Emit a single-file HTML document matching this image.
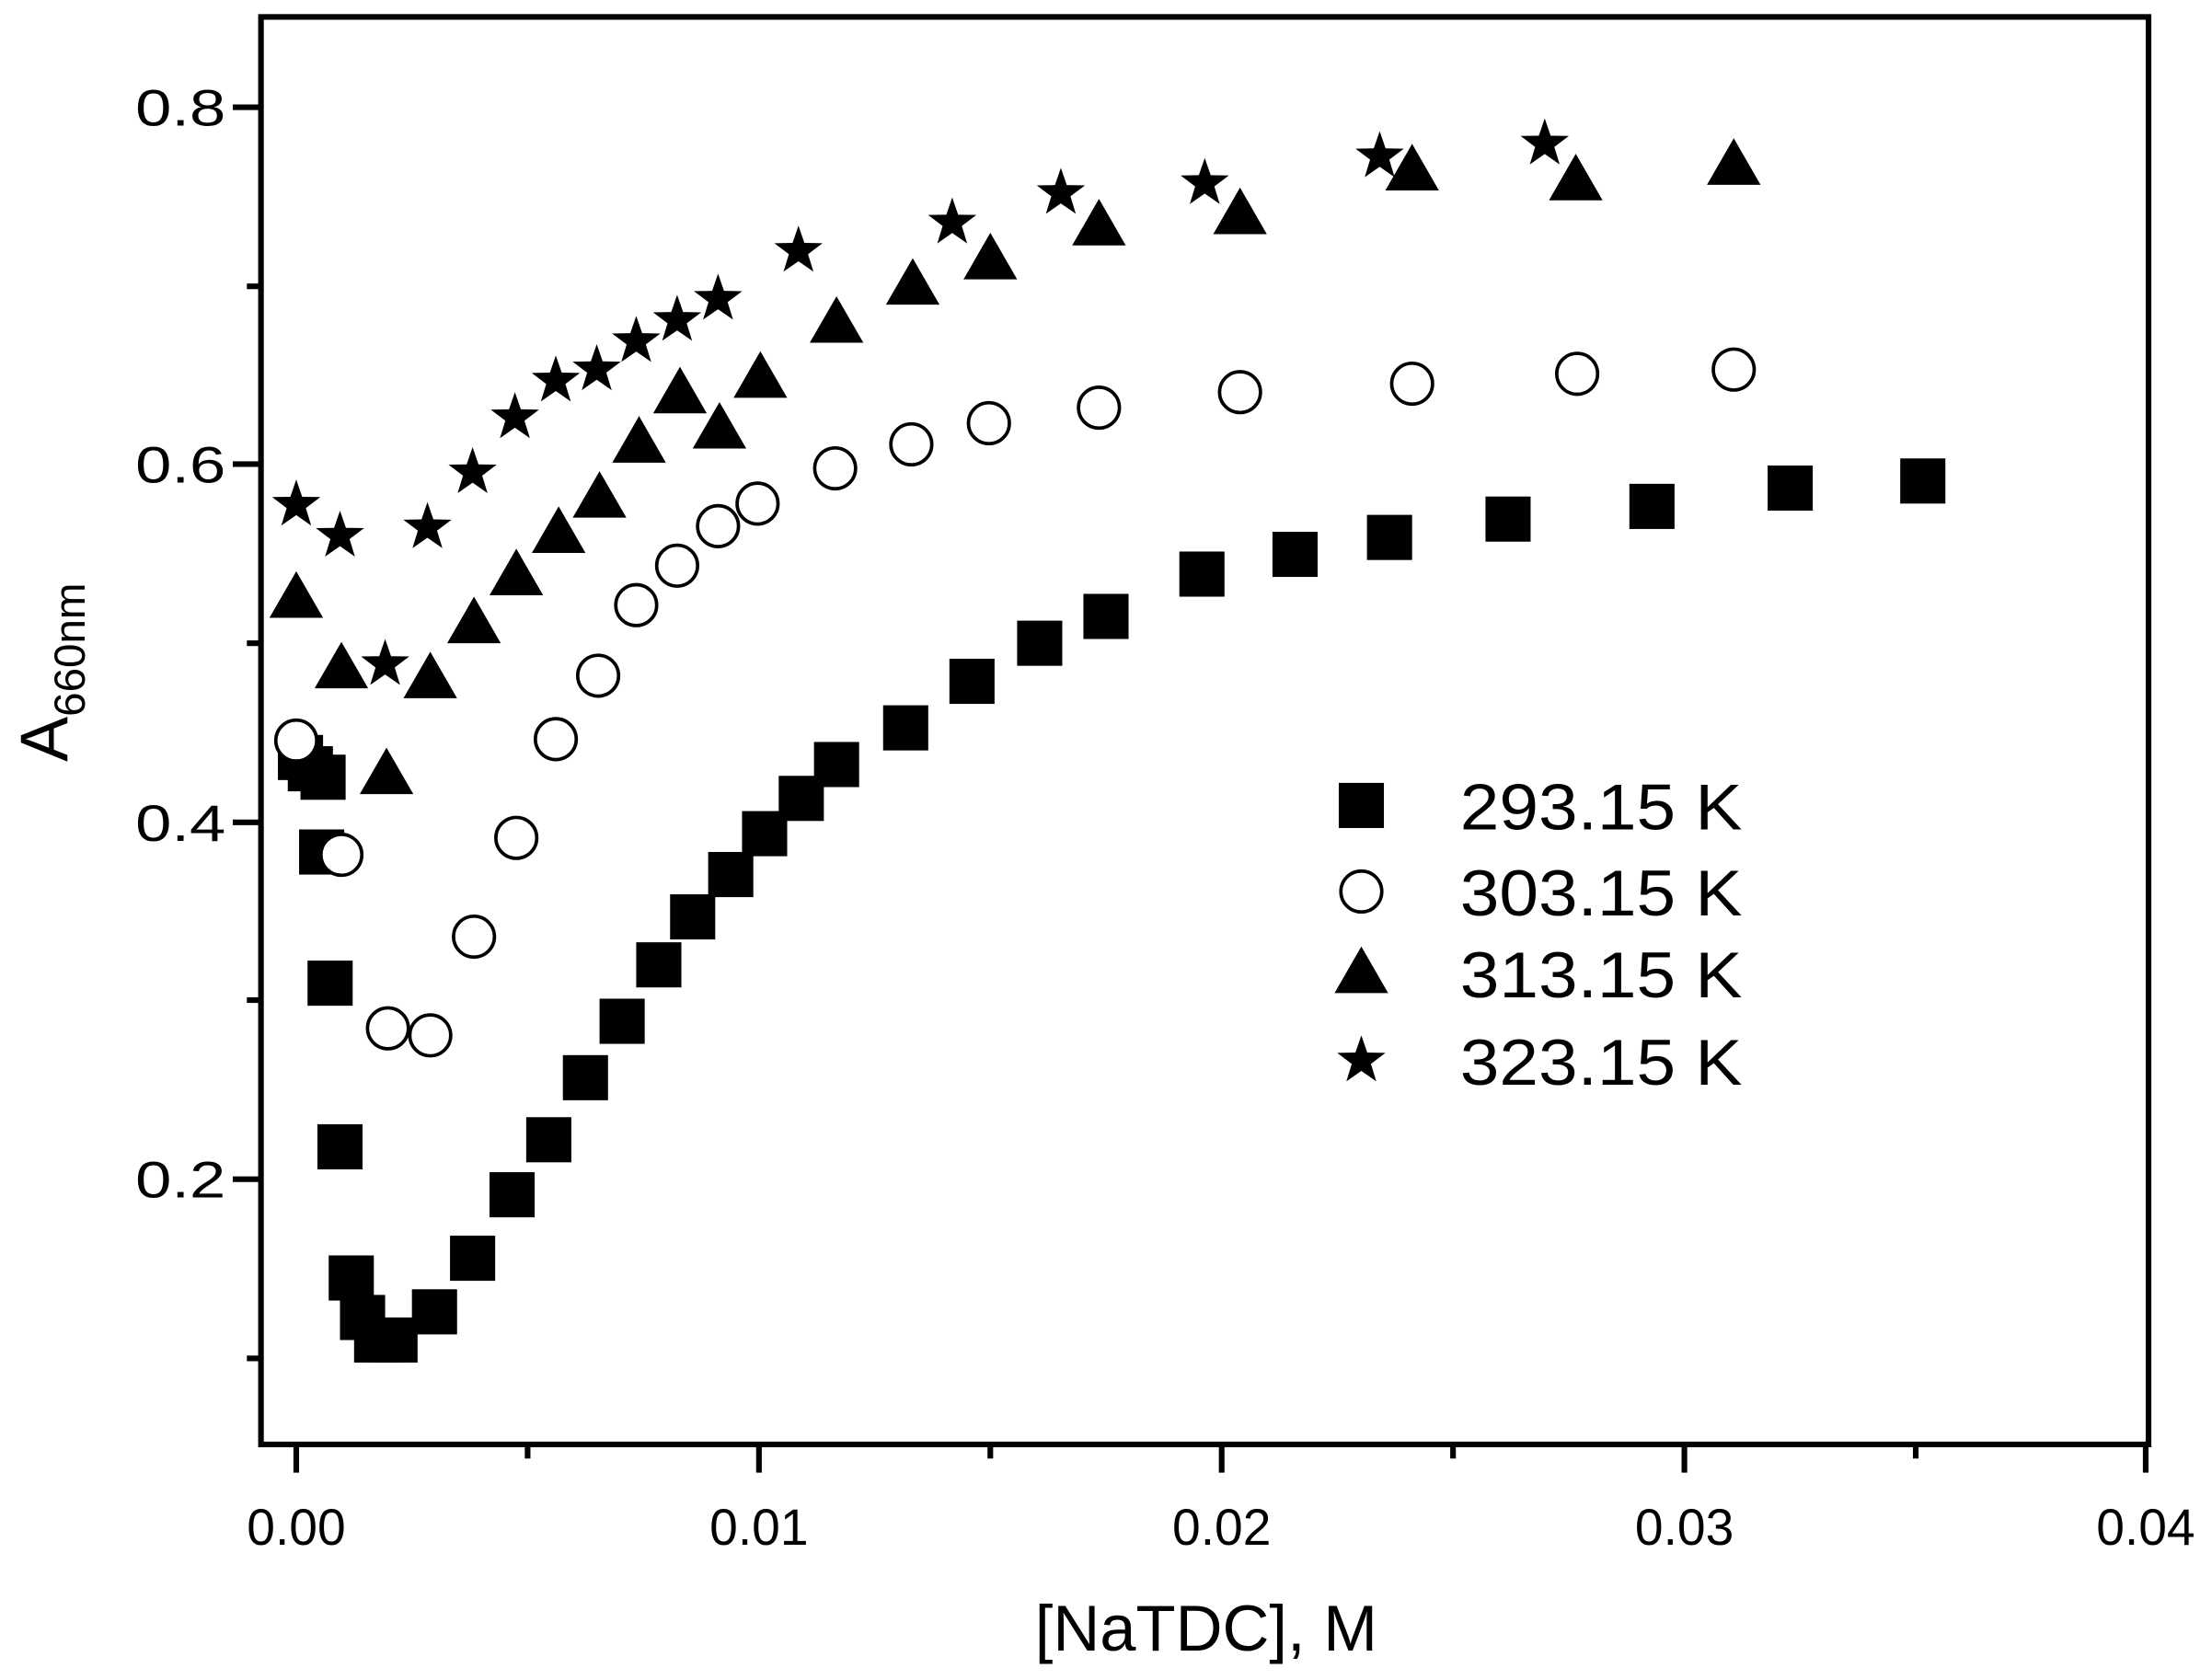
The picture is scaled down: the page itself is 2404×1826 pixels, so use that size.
<!DOCTYPE html>
<html><head><meta charset="utf-8"><style>html,body{margin:0;padding:0;background:#fff}svg{display:block}</style></head>
<body>
<svg width="2404" height="1826" viewBox="0 0 1568 1191" preserveAspectRatio="none" xmlns="http://www.w3.org/2000/svg" font-family="Liberation Sans, Arial, sans-serif">
<defs>
<rect id="sq" x="-16" y="-16" width="32" height="32" fill="#000"/>
<circle id="ci" r="14.5" fill="#fff" stroke="#000" stroke-width="2.4"/>
<polygon id="tr" points="0,-19 19,14 -19,14" fill="#000"/>
<polygon id="st" points="0,-18 4.2,-5.8 17.1,-5.6 6.8,2.2 10.6,14.6 0,7.2 -10.6,14.6 -6.8,2.2 -17.1,-5.6 -4.2,-5.8" fill="#000"/>
</defs>
<g stroke="#000" stroke-width="4" fill="none">
<rect x="185" y="12" width="1338" height="1012"/>
<line x1="165" y1="76" x2="185" y2="76"/><line x1="165" y1="329" x2="185" y2="329"/><line x1="165" y1="583" x2="185" y2="583"/><line x1="165" y1="836" x2="185" y2="836"/>
<line x1="175" y1="203" x2="185" y2="203"/><line x1="175" y1="456" x2="185" y2="456"/><line x1="175" y1="709" x2="185" y2="709"/><line x1="175" y1="963" x2="185" y2="963"/>
<line x1="210" y1="1024" x2="210" y2="1044"/><line x1="538" y1="1024" x2="538" y2="1044"/><line x1="866" y1="1024" x2="866" y2="1044"/><line x1="1194" y1="1024" x2="1194" y2="1044"/><line x1="1521" y1="1024" x2="1521" y2="1044"/>
<line x1="374" y1="1024" x2="374" y2="1034"/><line x1="702" y1="1024" x2="702" y2="1034"/><line x1="1030" y1="1024" x2="1030" y2="1034"/><line x1="1358" y1="1024" x2="1358" y2="1034"/>
</g>
<g font-size="36" text-anchor="end">
<text x="160" y="89" textLength="64" lengthAdjust="spacingAndGlyphs">0.8</text><text x="160" y="342" textLength="64" lengthAdjust="spacingAndGlyphs">0.6</text><text x="160" y="596" textLength="64" lengthAdjust="spacingAndGlyphs">0.4</text><text x="160" y="849" textLength="64" lengthAdjust="spacingAndGlyphs">0.2</text>
</g>
<g font-size="36" text-anchor="middle">
<text x="210" y="1095">0.00</text><text x="538" y="1095">0.01</text><text x="866" y="1095">0.02</text><text x="1194" y="1095">0.03</text><text x="1521" y="1095">0.04</text>
</g>
<text x="855" y="1170" font-size="46" text-anchor="middle">[NaTDC], M</text>
<text transform="translate(48,540) rotate(-90)" font-size="48">A<tspan font-size="31" dy="12">660nm</tspan></text>
<g>
<use href="#sq" x="213" y="537"/><use href="#sq" x="220" y="545"/><use href="#sq" x="229" y="551"/><use href="#sq" x="228" y="604"/><use href="#sq" x="234" y="697"/><use href="#sq" x="241" y="813"/><use href="#sq" x="249" y="906"/><use href="#sq" x="257" y="934"/><use href="#sq" x="267" y="950"/><use href="#sq" x="280" y="950"/><use href="#sq" x="308" y="930"/><use href="#sq" x="335" y="892"/><use href="#sq" x="363" y="847"/><use href="#sq" x="389" y="808"/><use href="#sq" x="415" y="764"/><use href="#sq" x="441" y="724"/><use href="#sq" x="467" y="684"/><use href="#sq" x="491" y="650"/><use href="#sq" x="518" y="620"/><use href="#sq" x="542" y="591"/><use href="#sq" x="568" y="566"/><use href="#sq" x="593" y="542"/><use href="#sq" x="642" y="516"/><use href="#sq" x="689" y="483"/><use href="#sq" x="737" y="456"/><use href="#sq" x="784" y="437"/><use href="#sq" x="852" y="407"/><use href="#sq" x="918" y="393"/><use href="#sq" x="985" y="381"/><use href="#sq" x="1069" y="368"/><use href="#sq" x="1171" y="359"/><use href="#sq" x="1269" y="346"/><use href="#sq" x="1363" y="341"/>
<use href="#ci" x="210" y="525"/><use href="#ci" x="242" y="606"/><use href="#ci" x="275" y="729"/><use href="#ci" x="305" y="734"/><use href="#ci" x="336" y="664"/><use href="#ci" x="366" y="594"/><use href="#ci" x="394" y="524"/><use href="#ci" x="424" y="479"/><use href="#ci" x="451" y="429"/><use href="#ci" x="480" y="401"/><use href="#ci" x="509" y="373"/><use href="#ci" x="537" y="357"/><use href="#ci" x="592" y="332"/><use href="#ci" x="646" y="315"/><use href="#ci" x="701" y="300"/><use href="#ci" x="779" y="289"/><use href="#ci" x="879" y="278"/><use href="#ci" x="1001" y="272"/><use href="#ci" x="1118" y="265"/><use href="#ci" x="1229" y="262"/>
<use href="#tr" x="210" y="424"/><use href="#tr" x="242" y="474"/><use href="#tr" x="274" y="549"/><use href="#tr" x="305" y="481"/><use href="#tr" x="336" y="442"/><use href="#tr" x="366" y="408"/><use href="#tr" x="396" y="378"/><use href="#tr" x="425" y="353"/><use href="#tr" x="453" y="314"/><use href="#tr" x="482" y="279"/><use href="#tr" x="510" y="304"/><use href="#tr" x="539" y="268"/><use href="#tr" x="593" y="229"/><use href="#tr" x="647" y="202"/><use href="#tr" x="702" y="184"/><use href="#tr" x="779" y="160"/><use href="#tr" x="879" y="152"/><use href="#tr" x="1001" y="121"/><use href="#tr" x="1117" y="128"/><use href="#tr" x="1229" y="117"/>
<use href="#st" x="210" y="358"/><use href="#st" x="241" y="380"/><use href="#st" x="273" y="471"/><use href="#st" x="303" y="374"/><use href="#st" x="335" y="335"/><use href="#st" x="365" y="296"/><use href="#st" x="394" y="270"/><use href="#st" x="423" y="262"/><use href="#st" x="451" y="242"/><use href="#st" x="480" y="227"/><use href="#st" x="509" y="212"/><use href="#st" x="566" y="178"/><use href="#st" x="675" y="158"/><use href="#st" x="752" y="137"/><use href="#st" x="854" y="130"/><use href="#st" x="978" y="111"/><use href="#st" x="1095" y="102"/>
</g>
<g font-size="46">
<use href="#sq" x="965" y="571"/><text x="1035" y="588" textLength="200" lengthAdjust="spacingAndGlyphs">293.15 K</text>
<use href="#ci" x="965" y="632"/><text x="1035" y="649" textLength="200" lengthAdjust="spacingAndGlyphs">303.15 K</text>
<use href="#tr" x="965" y="690"/><text x="1035" y="707" textLength="200" lengthAdjust="spacingAndGlyphs">313.15 K</text>
<use href="#st" x="965" y="752"/><text x="1035" y="769" textLength="200" lengthAdjust="spacingAndGlyphs">323.15 K</text>
</g>
</svg>
</body></html>
